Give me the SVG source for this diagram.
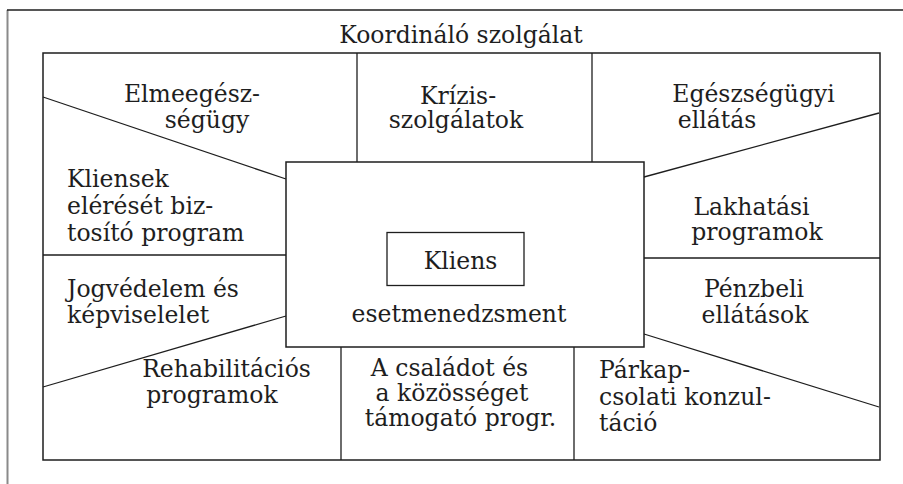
<svg xmlns="http://www.w3.org/2000/svg" width="903" height="484" viewBox="0 0 903 484">
<style>
.ln{stroke:#1e1e1e;stroke-width:1.3;fill:none}
.bx{stroke:#1e1e1e;stroke-width:1.5;fill:#fff}
text{font-family:"DejaVu Serif","Liberation Serif",serif;font-size:23.5px;fill:#1e1e1e}
.m{text-anchor:middle}
</style>
<rect width="903" height="484" fill="#fff"/>
<g id="frame">
<line x1="7.5" y1="10" x2="7.5" y2="484" stroke="#8a8a8a" stroke-width="2"/>
<line x1="7" y1="10" x2="903" y2="10" stroke="#1e1e1e" stroke-width="1.5"/>
<rect x="43" y="53" width="837" height="407" class="bx" fill="none"/>
</g>
<g id="connectors">
<line class="ln" x1="357" y1="53" x2="357" y2="162"/>
<line class="ln" x1="592" y1="53" x2="592" y2="162"/>
<line class="ln" x1="43" y1="97" x2="286" y2="179"/>
<line class="ln" x1="644" y1="177" x2="879" y2="113"/>
<line class="ln" x1="43" y1="255" x2="286" y2="255"/>
<line class="ln" x1="643" y1="258" x2="880" y2="258"/>
<line class="ln" x1="43" y1="387" x2="286" y2="316"/>
<line class="ln" x1="644" y1="334" x2="879" y2="407"/>
<line class="ln" x1="341" y1="344" x2="341" y2="460"/>
<line class="ln" x1="574" y1="344" x2="574" y2="460"/>
</g>
<g id="koordinalo"><text class="m" x="461" y="43">Koordináló szolgálat</text></g>
<g id="elmeegeszsegugy"><text class="m" x="192" y="102">Elmeegész-</text><text class="m" x="207" y="128">ségügy</text></g>
<g id="krizis"><text class="m" x="458" y="104">Krízis-</text><text class="m" x="456" y="128">szolgálatok</text></g>
<g id="egeszsegugyi"><text class="m" x="753.5" y="102">Egészségügyi</text><text class="m" x="717" y="128">ellátás</text></g>
<g id="kliensek"><text x="67" y="187">Kliensek</text><text x="67" y="214">elérését biz-</text><text x="67" y="241">tosító program</text></g>
<g id="lakhatasi"><text class="m" x="751.5" y="215">Lakhatási</text><text class="m" x="757" y="240">programok</text></g>
<g id="jogvedelem"><text x="67" y="297">Jogvédelem és</text><text x="67" y="323">képviselelet</text></g>
<g id="penzbeli"><text class="m" x="754" y="297">Pénzbeli</text><text class="m" x="755" y="323">ellátások</text></g>
<g id="esetmenedzsment">
<rect class="bx" x="286" y="162" width="358" height="185"/>
<text class="m" x="459" y="322">esetmenedzsment</text>
</g>
<g id="kliens">
<rect class="ln" x="387" y="232.5" width="137" height="53"/>
<text class="m" x="460.5" y="269">Kliens</text>
</g>
<g id="rehabilitacios"><text class="m" x="226.5" y="377">Rehabilitációs</text><text class="m" x="212" y="403">programok</text></g>
<g id="csaladot"><text class="m" x="449.5" y="376">A családot és</text><text class="m" x="452" y="401">a közösséget</text><text class="m" x="460.5" y="426">támogató progr.</text></g>
<g id="parkapcsolati"><text x="599" y="378">Párkap-</text><text x="599" y="405">csolati konzul-</text><text x="599" y="431">táció</text></g>
</svg>
